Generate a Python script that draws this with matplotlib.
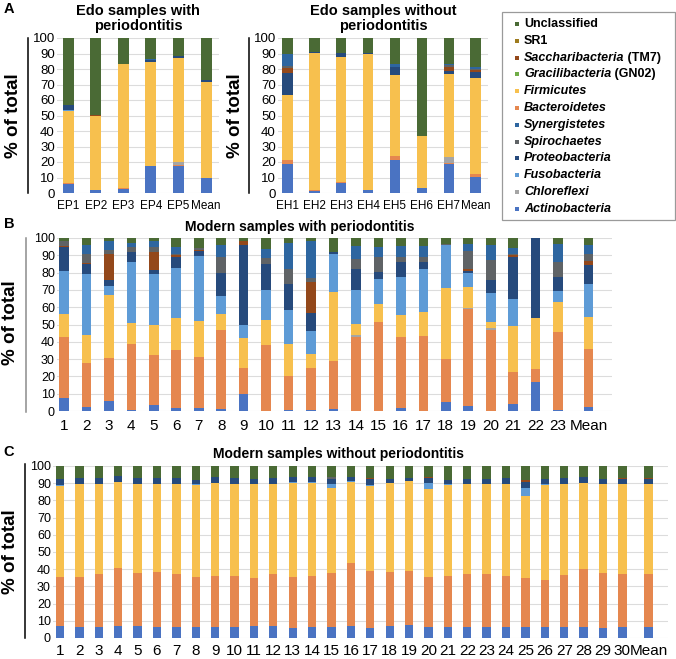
import numpy as np
import matplotlib.pyplot as plt
from matplotlib.patches import Rectangle
from matplotlib.lines import Line2D

plt.rcParams['font.family'] = ['Liberation Sans', 'DejaVu Sans']

# stacking order, bottom to top
order = ['act', 'bac', 'chl', 'fir', 'fus', 'pro', 'tm7', 'spi', 'syn', 'gn02', 'sr1', 'unc']
colors = {'act': '#4a73c2', 'bac': '#e5874f', 'chl': '#a5a5a5', 'fir': '#f7c04e',
          'fus': '#5e9bd6', 'pro': '#264a7c', 'tm7': '#93481b', 'spi': '#5f6366',
          'syn': '#2e66a0', 'gn02': '#70ad47', 'sr1': '#9e7b1e', 'unc': '#4a6a35'}

# ---- A: Edo with periodontitis
ep_labels = ['EP1', 'EP2', 'EP3', 'EP4', 'EP5', 'Mean']
ep_act = [6, 2, 2.5, 17.5, 17.5, 9.5]
ep_bac = [0.5, 0, 0.5, 0, 0.3, 0.5]
ep_chl = [0, 0, 0, 0, 2, 0]
ep_fir = [46.5, 48, 80, 67, 67.2, 61.5]
ep_fus = [0.5, 0, 0, 0.3, 0, 0.3]
ep_pro = [3.5, 0, 0.5, 1, 1.5, 1.2]
ep_tm7 = [0, 0.5, 0, 0, 0, 0]
ep_syn = [0, 0, 0, 0.5, 0, 0]
ep_unc = [43, 49.5, 16.5, 13.7, 11.5, 27]

# ---- A: Edo without periodontitis
eh_labels = ['EH1', 'EH2', 'EH3', 'EH4', 'EH5', 'EH6', 'EH7', 'Mean']
eh_act = [19, 1.5, 6.5, 2, 21, 3, 19, 10.5]
eh_bac = [2.5, 0.5, 0.5, 0, 3, 0, 0.3, 1.5]
eh_chl = [0, 0, 0, 0, 0, 0, 4, 0.3]
eh_fir = [41.5, 88.5, 81, 87.5, 52, 34, 53.7, 62.2]
eh_pro = [14.5, 0.5, 2.5, 1, 5.5, 0, 1.5, 3.5]
eh_tm7 = [3, 0, 0, 0, 0, 0, 3, 1.5]
eh_spi = [1.5, 0, 0, 0, 0, 0, 1, 0.5]
eh_syn = [8, 0, 0, 0, 2, 0, 1, 1]
eh_unc = [10, 9, 9.5, 9.5, 16.5, 63, 16.5, 19]

# ---- B: modern with periodontitis
mp_labels = [str(i) for i in range(1, 24)] + ['Mean']
mp_act = [7.5, 2.5, 5.5, 0.5, 3.5, 1.5, 1.5, 1.2, 10, 0, 0.3, 0.7, 1, 0, 0, 1.5, 0, 5, 3, 0, 4, 17, 0.5, 2.5]
mp_bac = [35.5, 25, 25, 38.5, 29, 33.5, 29.5, 45.8, 15, 38, 19.7, 24.3, 28, 43, 51.5, 41, 43.5, 25, 56, 47, 18.5, 7, 45, 33.5]
mp_chl = [0, 0, 0, 0, 0, 0, 0, 0, 0, 0, 0, 0, 0, 1, 0, 0, 0, 0, 0.5, 1, 0, 0, 0, 0]
mp_fir = [13, 16.5, 36.5, 12, 17, 19, 21, 9, 17, 14.5, 18.5, 8, 40, 6.5, 10.5, 13, 13.5, 41, 12, 3.5, 26.5, 29.5, 17.5, 18.5]
mp_fus = [25, 35, 5, 35, 29.5, 28.5, 37.5, 10.5, 7.5, 17.5, 20, 13.5, 21.5, 19.5, 14.5, 22, 25, 25, 8.5, 16.5, 16, 0.5, 6.5, 19]
mp_pro = [14, 6, 3.5, 6, 2.5, 6.5, 3, 13, 46.5, 15, 15, 10, 1.5, 12, 4, 8.5, 4, 0, 1, 7.5, 24, 46, 8, 11]
mp_tm7 = [0.5, 0.5, 15.5, 0, 10.5, 1, 0.5, 0, 2.5, 0, 0, 18, 0, 0, 0, 0, 0, 0, 1, 0, 1, 0, 0, 2]
mp_spi = [2.5, 5.5, 2, 3, 3, 1, 1, 9.5, 0, 3.5, 8.5, 2.5, 0, 6, 8.5, 3, 3, 0.5, 10.5, 11.5, 1, 0, 8.5, 4.5]
mp_syn = [0, 5, 5, 2, 3, 4, 0.5, 7, 0, 5, 15, 21.5, 0, 7.5, 6, 6.5, 6.5, 0, 4, 9, 3.5, 0, 10.5, 5]
mp_unc = [2, 4, 2, 3, 2, 5, 5.5, 4, 1.5, 6.5, 3, 1.5, 8, 4.5, 5, 4.5, 4.5, 3.5, 3.5, 4, 5.5, 0, 3.5, 4]

# ---- C: modern without periodontitis
mh_labels = [str(i) for i in range(1, 31)] + ['Mean']
mh_act = [6.8, 6.6, 6.2, 6.8, 6.8, 6.2, 6.2, 6.6, 6.6, 6.6, 6.8, 7, 5.8, 6.2, 6.2, 6.8,
          6, 6.8, 7.5, 6.6, 6.6, 6.2, 6.2, 6.2, 6.2, 6.6, 6.6, 6.6, 6, 6.6, 6.6]
mh_bac = [28.9, 28.9, 31, 34.1, 31.2, 32.3, 31, 28.9, 29.4, 29.6, 28.2, 30.2, 29.7, 29.8, 31.8, 36.8,
          32.8, 31.7, 31.5, 29.1, 29.6, 31, 31, 29.8, 28.8, 27.4, 29.9, 33.4, 31.8, 30.6, 30.6]
mh_fir = [52.7, 53.8, 52.1, 49.6, 51.5, 51, 52.1, 53.5, 54, 53.3, 54.5, 52.1, 54.8, 54.3, 49.2, 47.1,
          49.6, 51.5, 52, 50.8, 52.8, 52.3, 52.3, 53.5, 47.5, 55, 53, 50, 51.5, 52.1, 52.1]
mh_fus = [0.6, 0.3, 0.3, 0.3, 0.3, 0.3, 0.3, 0.3, 0.3, 0.3, 0.3, 0.3, 0.3, 0.3, 2.3, 0.3,
          0.4, 0.3, 0.3, 3.5, 0.3, 0.3, 0.3, 0.3, 4.9, 0.3, 0.3, 0.3, 0.3, 0.3, 0.5]
mh_pro = [3.6, 3.4, 3.4, 3.2, 3.2, 3, 3.4, 2.7, 3.1, 3, 2.5, 3.2, 3, 3, 2.8, 2.8,
          3.7, 2.2, 1.9, 3, 2.7, 2.7, 2.7, 3, 3.1, 3.3, 3, 3.1, 2.9, 2.9, 2.7]
mh_tm7 = [0, 0, 0, 0, 0, 0, 0, 0, 0, 0, 0, 0, 0, 0, 0, 0,
          0.5, 0, 0, 0.5, 0, 0, 0, 0, 1.5, 0, 0, 0, 0, 0.5, 0.5]
mh_spi = [0, 0, 0, 0, 0, 0, 0, 0, 0, 0, 0, 0, 0, 0, 1.2, 0,
          0, 0, 0, 0, 0, 0, 0, 0, 0, 0, 0, 0, 0, 0, 0]
mh_unc = [7.4, 7, 7, 6, 7, 7.2, 7, 8, 6.6, 7.2, 7.7, 7.2, 6.4, 6.4, 6.5, 6.2,
          7, 7.5, 6.8, 6.5, 8, 7.5, 7.5, 7.2, 8, 7.4, 7.2, 6.6, 7.5, 7, 7]

legend_items = [('Unclassified', '', 'unc', False), ('SR1', '', 'sr1', False),
                ('Saccharibacteria', ' (TM7)', 'tm7', True), ('Gracilibacteria', ' (GN02)', 'gn02', True),
                ('Firmicutes', '', 'fir', True), ('Bacteroidetes', '', 'bac', True),
                ('Synergistetes', '', 'syn', True), ('Spirochaetes', '', 'spi', True),
                ('Proteobacteria', '', 'pro', True), ('Fusobacteria', '', 'fus', True),
                ('Chloreflexi', '', 'chl', True), ('Actinobacteria', '', 'act', True)]

W, H = 676, 659
fig = plt.figure(figsize=(W / 100, H / 100), dpi=100)


def fx(x):
    return x / W


def fy(y):
    return 1 - y / H


def make_ax(left, top, right, bottom):
    return fig.add_axes([fx(left), fy(bottom), (right - left) / W, (bottom - top) / H])


def stack(ax, x, parts, width):
    bottom = np.zeros(len(x))
    for key in order:
        if key not in parts:
            continue
        vals = np.array(parts[key], dtype=float)
        ax.bar(x, vals, width, bottom=bottom, color=colors[key], linewidth=0, zorder=2)
        bottom += vals


def style(ax, x, labels, xlim, ysize, xsize, xpad):
    ax.set_xlim(*xlim)
    ax.set_ylim(0, 100)
    ax.set_yticks(range(0, 101, 10))
    ax.yaxis.grid(True, color='#dcdcdc', lw=0.8)
    ax.set_axisbelow(True)
    for s in ax.spines.values():
        s.set_visible(False)
    ax.set_xticks(x)
    ax.set_xticklabels(labels)
    ax.tick_params(axis='y', length=0, pad=1.5, labelsize=ysize)
    ax.tick_params(axis='x', length=0, pad=xpad, labelsize=xsize)


def side_line(xp, top, bottom, color='black'):
    fig.add_artist(Line2D([fx(xp), fx(xp)], [fy(top), fy(bottom)], color=color, lw=1.1))


def ylab(xp, yp):
    fig.text(fx(xp), fy(yp), '% of total', rotation=90, fontsize=13.5, fontweight='bold',
             ha='center', va='center')


# Panel A left
ax1 = make_ax(57, 38, 219, 193)
x1 = np.arange(len(ep_labels))
stack(ax1, x1, {'act': ep_act, 'bac': ep_bac, 'chl': ep_chl, 'fir': ep_fir, 'fus': ep_fus,
                'pro': ep_pro, 'tm7': ep_tm7, 'syn': ep_syn, 'unc': ep_unc}, 0.4)
style(ax1, x1, ep_labels, (-0.4, 5.47), 9.5, 8.5, 5)
ax1.set_title('Edo samples with\nperiodontitis', fontsize=10.5, fontweight='bold', pad=6,
              linespacing=1.1)
side_line(28, 38, 193)
ylab(13, 116)

# Panel A right
ax2 = make_ax(278, 38, 488, 193)
x2 = np.arange(len(eh_labels))
stack(ax2, x2, {'act': eh_act, 'bac': eh_bac, 'chl': eh_chl, 'fir': eh_fir, 'pro': eh_pro,
                'tm7': eh_tm7, 'spi': eh_spi, 'syn': eh_syn, 'unc': eh_unc}, 0.4)
style(ax2, x2, eh_labels, (-0.34, 7.45), 9.5, 8.5, 5)
ax2.set_title('Edo samples without\nperiodontitis', fontsize=10.5, fontweight='bold', pad=6,
              linespacing=1.1)
side_line(249, 38, 193)
ylab(236, 116)

# Panel B
ax3 = make_ax(57, 238, 612, 411)
x3 = np.array(list(range(23)) + [23.35])
stack(ax3, x3, {'act': mp_act, 'bac': mp_bac, 'chl': mp_chl, 'fir': mp_fir, 'fus': mp_fus,
                'pro': mp_pro, 'tm7': mp_tm7, 'spi': mp_spi, 'syn': mp_syn, 'unc': mp_unc}, 0.43)
style(ax3, x3, mp_labels, (-0.31, 24.4), 9, 11, 5.5)
side_line(26, 238, 412, color='#8c8c8c')
ylab(11, 323)
fig.text(fx(300), fy(227), 'Modern samples with periodontitis', fontsize=10, fontweight='bold',
         ha='center', va='center')

# Panel C
ax4 = make_ax(53, 466, 668, 638)
x4 = np.array(list(range(30)) + [30.35])
stack(ax4, x4, {'act': mh_act, 'bac': mh_bac, 'fir': mh_fir, 'fus': mh_fus, 'pro': mh_pro,
                'tm7': mh_tm7, 'spi': mh_spi, 'unc': mh_unc}, 0.43)
style(ax4, x4, mh_labels, (-0.36, 31.35), 9, 11, 4)
side_line(25, 464, 638)
ylab(11, 552)
fig.text(fx(339), fy(454), 'Modern samples without periodontitis', fontsize=10, fontweight='bold',
         ha='center', va='center')

# panel letters
for letter, xp, yp in [('A', 9, 9), ('B', 9, 224), ('C', 9, 452)]:
    fig.text(fx(xp), fy(yp), letter, fontsize=10.5, fontweight='bold', ha='center', va='center')

# legend box drawn by hand (mixed italic / upright labels)
fig.add_artist(Rectangle((fx(502), fy(220)), (675 - 502) / W, (220 - 12) / H,
                         transform=fig.transFigure, fill=False, edgecolor='#9a9a9a', lw=0.9))
renderer = fig.canvas.get_renderer()
for k, (name, extra, key, ital) in enumerate(legend_items):
    yp = 24 + 16.8 * k
    fig.add_artist(Rectangle((fx(515), fy(yp + 2)), 4 / W, 4 / H, transform=fig.transFigure,
                             facecolor=colors[key], edgecolor='none'))
    t = fig.text(fx(524), fy(yp), name, fontsize=9, fontweight='bold',
                 fontstyle='italic' if ital else 'normal', va='center', ha='left')
    if extra:
        bb = t.get_window_extent(renderer)
        fig.text(bb.x1 / fig.dpi / fig.get_figwidth(), fy(yp), extra, fontsize=9,
                 fontweight='bold', va='center', ha='left')

fig.savefig('out.png', dpi=100)
